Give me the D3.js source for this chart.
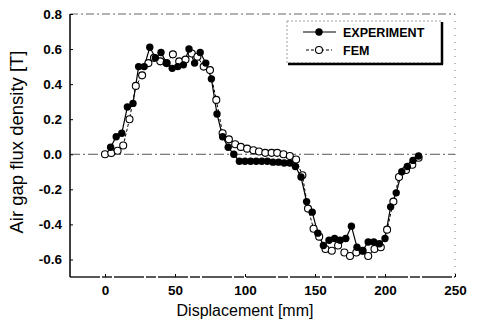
<!DOCTYPE html>
<html><head><meta charset="utf-8">
<script src="https://cdn.jsdelivr.net/npm/d3@7"></script>
<style>body{margin:0;background:#fff}svg{display:block}</style>
</head><body><svg id="c" width="478" height="322"></svg>
<script>
const expX = [4,8,12,16,20,24,28,32,36,40,44,48,52,56,60,64,68,72,76,80,84,88,92,96,100,104,108,112,116,120,124,128,132,136,140,144,148,152,156,160,164,168,172,176,180,184,188,192,196,200,204,208,212,216,220,224];
const expY = [0.04,0.10,0.12,0.27,0.29,0.50,0.50,0.61,0.55,0.58,0.52,0.49,0.50,0.51,0.60,0.52,0.58,0.52,0.43,0.23,0.10,0.04,0.00,-0.04,-0.04,-0.04,-0.04,-0.04,-0.04,-0.045,-0.045,-0.05,-0.05,-0.07,-0.13,-0.27,-0.33,-0.45,-0.52,-0.49,-0.48,-0.49,-0.48,-0.41,-0.53,-0.55,-0.50,-0.50,-0.51,-0.48,-0.30,-0.22,-0.10,-0.07,-0.035,-0.01];
const femX = [0,4.5,9,13,17.5,22,26.5,31,35,39.5,44,48.5,53,57.5,62,66,70.5,75,79.5,84,88.5,93,97,101.5,106,110,114.5,119,123,127.5,132,136.5,141,145,149,153,157.5,162,166.5,171,175,179.5,184,188,192.5,197,201.5,206,210,215,219.5,224];
const femY = [0.0,0.007,0.02,0.05,0.20,0.39,0.45,0.52,0.55,0.53,0.52,0.57,0.53,0.54,0.575,0.556,0.50,0.48,0.31,0.12,0.085,0.057,0.042,0.032,0.023,0.016,0.008,0.008,0.008,0.0,-0.01,-0.03,-0.12,-0.31,-0.425,-0.47,-0.54,-0.55,-0.52,-0.56,-0.58,-0.56,-0.55,-0.58,-0.54,-0.53,-0.43,-0.27,-0.13,-0.09,-0.06,-0.02];
const xTicks = [0,50,100,150,200,250];
const yTicks = [-0.6,-0.4,-0.2,0.0,0.2,0.4,0.6,0.8];
const seriesNames = ["EXPERIMENT","FEM"];
const xTitle = "Displacement [mm]";
const yTitle = "Air gap flux density [T]";

const svg = d3.select("#c");
const L=70,R=455,T=14,B=277;
const x = d3.scaleLinear().domain([-25,250]).range([L,R]);
const y = d3.scaleLinear().domain([-0.7,0.8]).range([B,T]);
const font = "'Liberation Sans', Arial, sans-serif";

// frame
svg.append("line").attr("x1",L).attr("x2",R).attr("y1",T).attr("y2",T)
  .attr("stroke","#666").attr("stroke-width",1).attr("stroke-dasharray","8,3,2,3");
svg.append("line").attr("x1",R).attr("x2",R).attr("y1",T).attr("y2",B)
  .attr("stroke","#777").attr("stroke-width",1).attr("stroke-dasharray","1,6");
svg.append("line").attr("x1",L).attr("x2",R).attr("y1",B).attr("y2",B)
  .attr("stroke","#222").attr("stroke-width",1.3).attr("stroke-dasharray","30,2,10,2");
svg.append("line").attr("x1",L).attr("x2",L).attr("y1",T).attr("y2",B)
  .attr("stroke","#000").attr("stroke-width",1.5);
// zero line
svg.append("line").attr("x1",L).attr("x2",R).attr("y1",y(0)).attr("y2",y(0))
  .attr("stroke","#444").attr("stroke-width",0.9).attr("stroke-dasharray","10,3,2,3");

// axes
const yAxis = d3.axisLeft(y).tickValues(yTicks).tickFormat(d3.format(".1f")).tickSize(-3).tickPadding(8);
const gy = svg.append("g").attr("transform",`translate(${L},0)`).call(yAxis);
const xAxis = d3.axisBottom(x).tickValues(xTicks).tickFormat(d3.format("d")).tickSize(-3).tickPadding(8);
const gx = svg.append("g").attr("transform",`translate(0,${B})`).call(xAxis);
[gx,gy].forEach(g=>{
  g.select(".domain").remove();
  g.selectAll(".tick line").attr("stroke","#000");
  g.selectAll("text").attr("font-family",font).attr("font-size",13.5).attr("font-weight","bold").attr("fill","#000");
});
gy.selectAll("text").text(d=>d.toFixed(1).replace("-0.0","0.0"));

// titles
svg.append("text").attr("x",x(100)).attr("y",316).attr("text-anchor","middle")
  .attr("font-family",font).attr("font-size",16).text(xTitle);
svg.append("text").attr("transform",`translate(23,142) rotate(-90)`).attr("text-anchor","middle")
  .attr("font-family",font).attr("font-size",18.5).text(yTitle);

const exp = expX.map((v,i)=>[v,expY[i]]);
const fem = femX.map((v,i)=>[v,femY[i]]);
const line = d3.line().x(d=>x(d[0])).y(d=>y(d[1]));

svg.append("path").datum(fem).attr("d",line).attr("fill","none").attr("stroke","#000").attr("stroke-width",1).attr("stroke-dasharray","3,2");
svg.append("path").datum(exp).attr("d",line).attr("fill","none").attr("stroke","#000").attr("stroke-width",1.2);
svg.append("g").selectAll("circle").data(fem).join("circle")
  .attr("cx",d=>x(d[0])).attr("cy",d=>y(d[1])).attr("r",3.5).attr("fill","#fff").attr("stroke","#000").attr("stroke-width",1.1);
svg.append("g").selectAll("circle").data(exp).join("circle")
  .attr("cx",d=>x(d[0])).attr("cy",d=>y(d[1])).attr("r",3.7).attr("fill","#000");

// legend
const lg = svg.append("g");
lg.append("rect").attr("x",287).attr("y",21).attr("width",155).attr("height",42)
  .attr("fill","#fff").attr("stroke","#888").attr("stroke-width",0.8).attr("stroke-dasharray","2,2");
lg.append("line").attr("x1",442).attr("x2",442).attr("y1",22).attr("y2",64.5).attr("stroke","#000").attr("stroke-width",2.5);
lg.append("line").attr("x1",288).attr("x2",443).attr("y1",64).attr("y2",64).attr("stroke","#000").attr("stroke-width",2.5);
const ly = [32,50];
lg.append("line").attr("x1",303).attr("x2",336).attr("y1",ly[0]).attr("y2",ly[0]).attr("stroke","#000").attr("stroke-width",1.2);
lg.append("circle").attr("cx",319).attr("cy",ly[0]).attr("r",3.7).attr("fill","#000");
lg.append("line").attr("x1",306).attr("x2",332).attr("y1",ly[1]).attr("y2",ly[1]).attr("stroke","#000").attr("stroke-width",1).attr("stroke-dasharray","3,2");
lg.append("circle").attr("cx",319).attr("cy",ly[1]).attr("r",3.5).attr("fill","#fff").attr("stroke","#000").attr("stroke-width",1.1);
lg.selectAll("text.l").data(seriesNames).join("text").attr("class","l")
  .attr("x",343).attr("y",(d,i)=>ly[i]+5).attr("font-family",font).attr("font-size",12.5).attr("font-weight","bold").text(d=>d);
</script></body></html>
